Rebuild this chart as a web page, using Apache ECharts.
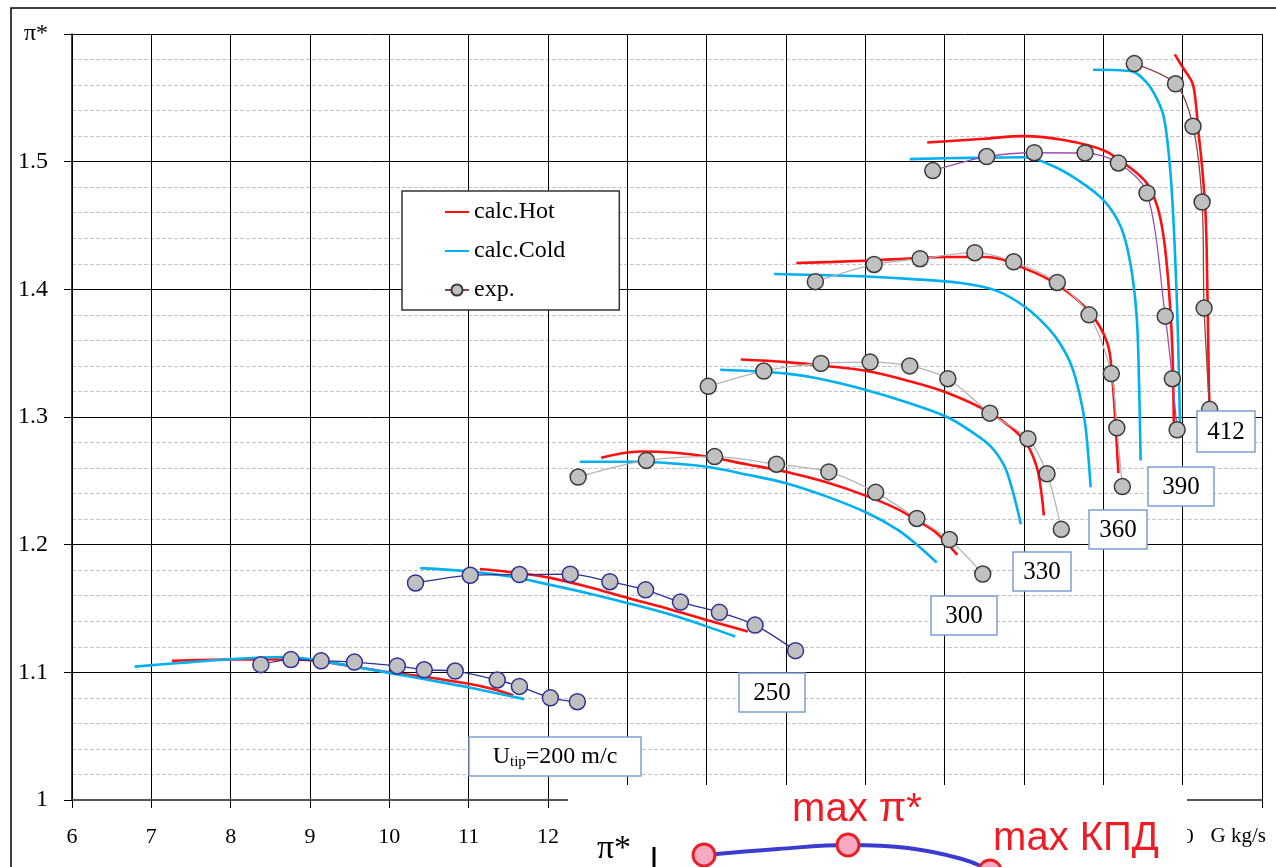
<!DOCTYPE html>
<html>
<head>
<meta charset="utf-8">
<title>π* - G</title>
<script src="https://cdn.jsdelivr.net/npm/echarts@6/dist/echarts.min.js"></script>
<style>
  html, body { margin: 0; padding: 0; background: #fff; }
  #grafica { width: 1276px; height: 867px; }
</style>
</head>
<body>
<div id="grafica"></div>
<script>
// axes
const xMin = 6, xMax = 21, xStep = 1;
const yMin = 1, yMax = 1.6, yStep = 0.1;
const yTopLabel = "π*";
const xName = "G kg/s";

// calc.Hot  [G, pi*]
const hot200 = [[7.26,1.109],[8.0,1.110],[8.8,1.110],[9.2,1.108],[9.6,1.104],[10.0,1.100],[10.5,1.096],[11.0,1.091],[11.3,1.087],[11.56,1.082]];
const hot250 = [[11.14,1.181],[11.6,1.178],[12.03,1.174],[12.5,1.167],[13.02,1.158],[13.5,1.150],[14.0,1.141],[14.52,1.132]];
const hot300 = [[12.67,1.268],[13.16,1.273],[13.6,1.272],[14.0,1.269],[14.5,1.263],[15.01,1.257],[15.5,1.249],[16.02,1.238],[16.4,1.228],[16.65,1.219],[16.9,1.209],[17.16,1.192]];
const hot330 = [[14.43,1.345],[15.01,1.343],[15.5,1.340],[16.02,1.336],[16.5,1.329],[17.03,1.319],[17.58,1.303],[18.0,1.282],[18.16,1.261],[18.22,1.240],[18.25,1.223]];
const hot360 = [[15.13,1.4206],[15.6,1.4215],[16.02,1.4225],[16.5,1.424],[17.03,1.4253],[17.53,1.4253],[18.02,1.416],[18.42,1.4036],[18.82,1.3827],[19.05,1.358],[19.11,1.332],[19.15,1.298],[19.19,1.256]];
const hot390 = [[16.78,1.515],[17.5,1.518],[18.0,1.520],[18.5,1.517],[19.0,1.509],[19.3,1.497],[19.55,1.483],[19.68,1.465],[19.76,1.441],[19.82,1.405],[19.87,1.353],[19.89,1.286]];
const hot412 = [[19.90,1.584],[20.01,1.573],[20.12,1.562],[20.16,1.549],[20.20,1.5225],[20.245,1.496],[20.29,1.457],[20.31,1.405],[20.33,1.327],[20.34,1.307]];

// calc.Cold
const cold200 = [[6.79,1.1045],[7.5,1.108],[8.2,1.111],[8.71,1.112],[9.13,1.109],[9.6,1.104],[10.05,1.099],[10.5,1.094],[11.02,1.088],[11.4,1.083],[11.7,1.079]];
const cold250 = [[10.39,1.1816],[11.02,1.179],[11.52,1.175],[12.03,1.1685],[12.5,1.162],[13.02,1.154],[13.5,1.146],[14.0,1.136],[14.36,1.128]];
const cold300 = [[12.40,1.265],[13.16,1.265],[13.6,1.2635],[14.0,1.261],[14.5,1.255],[15.01,1.248],[15.5,1.238],[16.02,1.225],[16.4,1.212],[16.65,1.200],[16.9,1.186]];
const cold330 = [[14.17,1.337],[15.01,1.334],[15.5,1.329],[16.02,1.321],[16.5,1.312],[17.03,1.300],[17.35,1.288],[17.58,1.277],[17.75,1.262],[17.83,1.248],[17.9,1.232],[17.96,1.216]];
const cold360 = [[14.85,1.412],[15.5,1.411],[16.02,1.410],[16.6,1.408],[17.2,1.405],[17.65,1.399],[18.02,1.386],[18.3,1.370],[18.46,1.357],[18.6,1.340],[18.7,1.318],[18.77,1.295],[18.81,1.270],[18.84,1.245]];
const cold390 = [[16.56,1.502],[17.3,1.503],[18.0,1.5035],[18.33,1.4976],[18.67,1.486],[19.0,1.470],[19.22,1.449],[19.34,1.4206],[19.42,1.379],[19.45,1.3266],[19.47,1.266]];
const cold412 = [[18.87,1.572],[19.34,1.571],[19.55,1.5617],[19.68,1.5486],[19.76,1.5355],[19.82,1.509],[19.87,1.470],[19.91,1.418],[19.94,1.366],[19.97,1.284]];

// exp.
const exp200 = [[8.38,1.106],[8.76,1.110],[9.14,1.109],[9.56,1.108],[10.10,1.105],[10.44,1.102],[10.83,1.101],[11.36,1.094],[11.64,1.089],[12.03,1.080],[12.37,1.077]];
const exp250 = [[10.33,1.170],[11.02,1.176],[11.64,1.1766],[12.28,1.1769],[12.78,1.171],[13.23,1.1646],[13.67,1.155],[14.16,1.147],[14.61,1.137],[15.12,1.117]];
const exp300 = [[12.38,1.253],[13.24,1.266],[14.10,1.269],[14.88,1.263],[15.54,1.257],[16.13,1.241],[16.65,1.2205],[17.06,1.204],[17.48,1.177]];
const exp330 = [[14.02,1.324],[14.72,1.336],[15.44,1.342],[16.06,1.343],[16.56,1.340],[17.04,1.330],[17.57,1.303],[18.05,1.283],[18.29,1.2555],[18.47,1.212]];
const exp360 = [[15.37,1.406],[16.11,1.4195],[16.69,1.424],[17.38,1.4287],[17.87,1.4216],[18.42,1.4054],[18.82,1.380],[19.10,1.334],[19.17,1.2915],[19.24,1.2455]];
const exp390 = [[16.85,1.493],[17.53,1.504],[18.13,1.507],[18.77,1.5068],[19.19,1.499],[19.55,1.4755],[19.78,1.379],[19.87,1.330],[19.93,1.290]];
const exp412 = [[19.39,1.5768],[19.91,1.561],[20.13,1.5277],[20.245,1.4684],[20.27,1.3853],[20.34,1.306]];

// inset sketch (cropped picture at the bottom), local pixel units
const insetCurve = [[136,12],[210,18],[280,22],[340,19],[394,8],[422,-4],[440,-20]];
const insetMarks = [0, 2, 5];

const speedBoxes = [
  { text: "250", x: 739, y: 673, w: 66, h: 39 },
  { text: "300", x: 931, y: 596, w: 66, h: 39 },
  { text: "330", x: 1013, y: 552, w: 58, h: 39 },
  { text: "360", x: 1089, y: 510, w: 58, h: 39 },
  { text: "390", x: 1148, y: 467, w: 66, h: 39 },
  { text: "412", x: 1197, y: 411, w: 58, h: 41 }
];

const SERIF = "Liberation Serif, Times New Roman, serif";
const RED = "#ff1010";
const CYAN = "#00b0f0";

function calc(name, data, color) {
  return {
    name: name, type: "line", data: data, smooth: 0.35,
    symbol: "none", showSymbol: false,
    lineStyle: { color: color, width: 2.6 },
    itemStyle: { color: color },
    z: 3
  };
}
function exp(data, lineColor, border) {
  return {
    name: "exp.", type: "line", data: data, smooth: 0.3,
    symbol: "circle", symbolSize: 16, showSymbol: true,
    lineStyle: { color: lineColor, width: 1.3 },
    itemStyle: { color: "#c0c0c0", borderColor: border, borderWidth: 1.5 },
    z: 5
  };
}

const series = [
  calc("calc.Hot", hot200, RED), calc("calc.Hot", hot250, RED), calc("calc.Hot", hot300, RED),
  calc("calc.Hot", hot330, RED), calc("calc.Hot", hot360, RED), calc("calc.Hot", hot390, RED),
  calc("calc.Hot", hot412, RED),
  calc("calc.Cold", cold200, CYAN), calc("calc.Cold", cold250, CYAN), calc("calc.Cold", cold300, CYAN),
  calc("calc.Cold", cold330, CYAN), calc("calc.Cold", cold360, CYAN), calc("calc.Cold", cold390, CYAN),
  calc("calc.Cold", cold412, CYAN),
  exp(exp412, "#8b4545", "#3a3a3a"),
  exp(exp390, "#9b4fb0", "#3a3a3a"),
  exp(exp360, "#b4b4b4", "#3a3a3a"),
  exp(exp330, "#b4b4b4", "#3a3a3a"),
  exp(exp300, "#b4b4b4", "#3a3a3a"),
  exp(exp250, "#2e3192", "#2e3192"),
  exp(exp200, "#2e3192", "#2e3192"),
  {
    type: "line", xAxisIndex: 1, yAxisIndex: 1, clip: false, smooth: 0.4,
    data: insetCurve.map((p, i) => ({
      value: p, symbolSize: insetMarks.includes(i) ? 22 : 0
    })),
    symbol: "circle", showSymbol: true,
    lineStyle: { color: "#3b3bd0", width: 4 },
    itemStyle: { color: "#f9a9c2", borderColor: "#e8202a", borderWidth: 3 },
    z: 30, silent: true
  }
];

const graphic = [
  { type: "rect", shape: { x: 11, y: 8, width: 1400, height: 1000 },
    style: { fill: null, stroke: "#000", lineWidth: 1.5 }, z: 1, silent: true },
  { type: "rect", shape: { x: 568, y: 785, width: 619, height: 90 },
    style: { fill: "#fff" }, z: 20, silent: true },
  { type: "text", x: 614, y: 849, z: 40,
    style: { text: "π*", font: "34px " + SERIF, fill: "#000", textAlign: "center", textVerticalAlign: "middle" } },
  { type: "line", shape: { x1: 654, y1: 847, x2: 654, y2: 870 },
    style: { stroke: "#000", lineWidth: 3 }, z: 40 },
  { type: "text", x: 857, y: 810, z: 40,
    style: { text: "max π*", font: "40px Liberation Sans, Arial, sans-serif", fill: "#ee1c24", textAlign: "center", textVerticalAlign: "middle" } },
  { type: "text", x: 1076, y: 839, z: 40,
    style: { text: "max КПД", font: "40px Liberation Sans, Arial, sans-serif", fill: "#ee1c24", textAlign: "center", textVerticalAlign: "middle" } },
  { type: "rect", shape: { x: 469, y: 737, width: 172, height: 39 },
    style: { fill: "#fff", stroke: "#7f9ed0", lineWidth: 1.5 }, z: 10 },
  { type: "text", x: 555, y: 757, z: 11,
    style: {
      text: "{a|U}{b|tip}{a|=200 m/c}",
      rich: {
        a: { fontFamily: SERIF, fontSize: 24, fill: "#000" },
        b: { fontFamily: SERIF, fontSize: 15, fill: "#000", padding: [10, 0, 0, 0] }
      },
      textAlign: "center", textVerticalAlign: "middle"
    } }
];
speedBoxes.forEach(b => {
  graphic.push({ type: "rect", shape: { x: b.x, y: b.y, width: b.w, height: b.h },
    style: { fill: "#fff", stroke: "#7f9ed0", lineWidth: 1.5 }, z: 10 });
  graphic.push({ type: "text", x: b.x + b.w / 2, y: b.y + b.h / 2 + 1, z: 11,
    style: { text: b.text, font: "25px " + SERIF, fill: "#000", textAlign: "center", textVerticalAlign: "middle" } });
});

const myChart = echarts.init(document.getElementById("grafica"), null, { renderer: "canvas" });
myChart.setOption({
  backgroundColor: "#fff",
  animation: false,
  grid: [
    { left: 72, right: 14, top: 34, bottom: 67 },
    { left: 568, top: 785, width: 619, height: 82 }
  ],
  legend: {
    data: [
      { name: "calc.Hot", itemStyle: { opacity: 0 } },
      { name: "calc.Cold", itemStyle: { opacity: 0 } },
      { name: "exp." }
    ],
    orient: "vertical", left: 402, top: 191,
    padding: [9, 54, 8, 42], itemGap: 15,
    itemWidth: 24, itemHeight: 14,
    backgroundColor: "#fff", borderColor: "#333", borderWidth: 1.5,
    selectedMode: false,
    textStyle: { fontFamily: SERIF, fontSize: 24, color: "#000" },
    z: 8
  },
  xAxis: [
    {
      type: "value", min: xMin, max: xMax, interval: xStep,
      name: xName, nameLocation: "end", nameGap: 4,
      nameTextStyle: { fontFamily: SERIF, fontSize: 21, color: "#000", align: "right", verticalAlign: "top", padding: [26, 0, 0, 0] },
      axisLine: { show: true, lineStyle: { color: "#555", width: 2 } },
      axisTick: { show: true, length: 8, lineStyle: { color: "#000" } },
      axisLabel: {
        margin: 26, fontFamily: SERIF, fontSize: 22, color: "#000",
        formatter: v => (v >= xMax ? "" : String(v))
      },
      splitLine: { show: true, lineStyle: { color: "#000", width: 1 } }
    },
    { gridIndex: 1, type: "value", min: 0, max: 619, show: false }
  ],
  yAxis: [
    {
      type: "value", min: yMin, max: yMax, interval: yStep,
      axisLine: { show: true, lineStyle: { color: "#000", width: 1.5 } },
      axisTick: { show: true, length: 8, lineStyle: { color: "#000" } },
      axisLabel: {
        margin: 24, fontFamily: SERIF, fontSize: 24, color: "#000",
        formatter: v => (Math.abs(v - yMax) < 1e-6 ? yTopLabel : String(+v.toFixed(1)))
      },
      splitLine: { show: true, lineStyle: { color: "#000", width: 1 } },
      minorTick: { show: false, splitNumber: 5 },
      minorSplitLine: { show: true, lineStyle: { color: "#c4c4c4", width: 1, type: [4, 2] } }
    },
    { gridIndex: 1, type: "value", min: 0, max: 82, show: false }
  ],
  series: series,
  graphic: graphic
});
</script>
</body>
</html>
